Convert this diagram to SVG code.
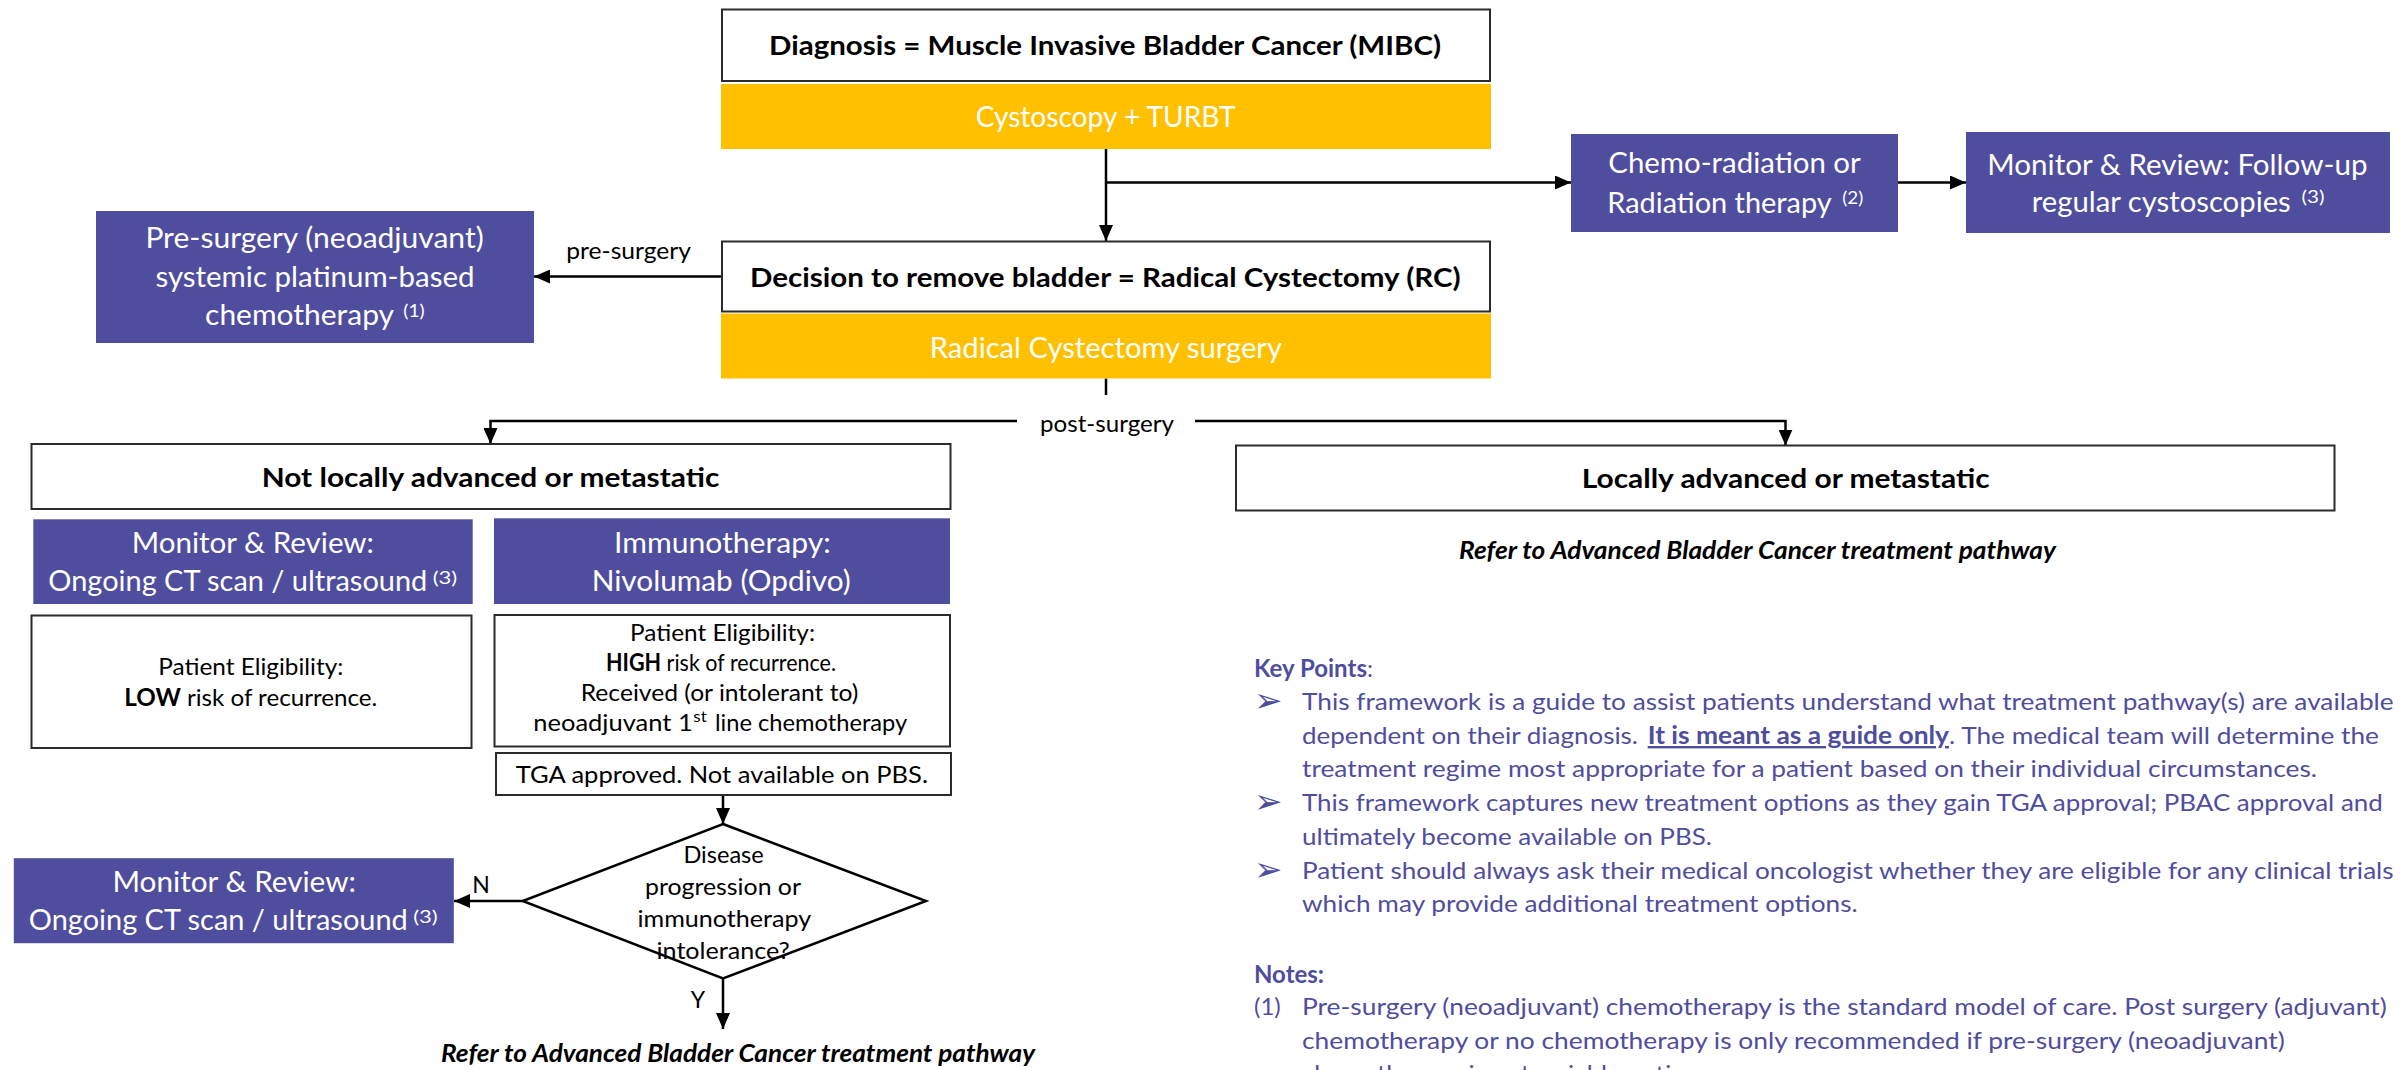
<svg xmlns="http://www.w3.org/2000/svg" width="2402" height="1070" viewBox="0 0 2402 1070">
<style>
.box{fill:#fff;stroke:#2b2b2b;stroke-width:2}
.pbox{fill:#4F4D9E}
.ybox{fill:#FFC000}
text{font-family:Lato,"Open Sans","Liberation Sans",sans-serif;fill:#000}
.w{fill:#fff;font-size:28px}
.b{font-weight:700;font-size:26px}
.s{font-size:24px}
.sup{font-size:17px}
.supw{font-size:17px;fill:#fff}
.kp{fill:#4F4D9E;font-size:24px}
.bul{font-family:"DejaVu Sans",sans-serif;fill:#4F4D9E;font-size:34px}
.ref{font-size:24px;font-weight:700;font-style:italic}
.conn{stroke:#000;stroke-width:2.5;fill:none}
</style>
<defs>
<marker id="ah" viewBox="0 0 16 14" markerWidth="16" markerHeight="14" refX="16" refY="7" orient="auto" markerUnits="userSpaceOnUse">
<path d="M0,0 L16,7 L0,14 z" fill="#000"/>
</marker>
</defs>

<g id="connectors">
<path class="conn" d="M1106,149 V241" marker-end="url(#ah)"/>
<path class="conn" d="M1106,182.5 H1571" marker-end="url(#ah)"/>
<path class="conn" d="M1898,182.5 H1966" marker-end="url(#ah)"/>
<path class="conn" d="M722,276.5 H534" marker-end="url(#ah)"/>
<path class="conn" d="M1106,378.5 V395"/>
<path class="conn" d="M1017,421 H490.5 V444" marker-end="url(#ah)"/>
<path class="conn" d="M1195,421 H1785.5 V445.5" marker-end="url(#ah)"/>
<path class="conn" d="M723,795 V824" marker-end="url(#ah)"/>
<path class="conn" d="M522.7,901 H454" marker-end="url(#ah)"/>
<path class="conn" d="M723,978.5 V1029" marker-end="url(#ah)"/>
<text class="s" x="566.3" y="259.3" textLength="124.7" lengthAdjust="spacingAndGlyphs">pre-surgery</text>
<text class="s" x="1040" y="431.7" textLength="134" lengthAdjust="spacingAndGlyphs">post-surgery</text>
<text x="472.3" y="892.7" style="font-size:23px">N</text>
<text x="690.7" y="1008.3" style="font-size:23px">Y</text>
</g>

<g id="n-diagnosis">
<rect class="box" x="722" y="9.5" width="768" height="71.5"/>
<text class="b" x="769" y="55" textLength="672" lengthAdjust="spacingAndGlyphs">Diagnosis = Muscle Invasive Bladder Cancer (MIBC)</text>
</g>
<g id="n-cystoscopy">
<rect class="ybox" x="721" y="84" width="770" height="65"/>
<text class="w" x="975.7" y="126.7" textLength="260" lengthAdjust="spacingAndGlyphs">Cystoscopy + TURBT</text>
</g>
<g id="n-decision">
<rect class="box" x="722" y="241.5" width="768" height="70"/>
<text class="b" x="750" y="287.3" textLength="710.6" lengthAdjust="spacingAndGlyphs">Decision to remove bladder = Radical Cystectomy (RC)</text>
</g>
<g id="n-rc-surgery">
<rect class="ybox" x="721" y="313.5" width="770" height="65"/>
<text class="w" x="929.8" y="358.3" textLength="352.2" lengthAdjust="spacingAndGlyphs">Radical Cystectomy surgery</text>
</g>
<g id="n-chemorad">
<rect class="pbox" x="1571" y="134" width="327" height="98"/>
<text class="w" x="1608.3" y="173.3" textLength="252.4" lengthAdjust="spacingAndGlyphs">Chemo-radiation or</text>
<text class="w" x="1607.3" y="212.7" textLength="224.4" lengthAdjust="spacingAndGlyphs">Radiation therapy</text>
<text class="supw" x="1842.3" y="204" textLength="21" lengthAdjust="spacingAndGlyphs">(2)</text>
</g>
<g id="n-followup">
<rect class="pbox" x="1966" y="132" width="424" height="101"/>
<text class="w" x="1987.3" y="175" textLength="380.2" lengthAdjust="spacingAndGlyphs">Monitor &amp; Review: Follow-up</text>
<text class="w" x="2031.7" y="211.7" textLength="259.1" lengthAdjust="spacingAndGlyphs">regular cystoscopies</text>
<text class="supw" x="2301.6" y="203" textLength="23" lengthAdjust="spacingAndGlyphs">(3)</text>
</g>
<g id="n-presurgery">
<rect class="pbox" x="96" y="211" width="438" height="132"/>
<text class="w" x="145.4" y="248.3" textLength="338.3" lengthAdjust="spacingAndGlyphs">Pre-surgery (neoadjuvant)</text>
<text class="w" x="155.4" y="287.3" textLength="319.1" lengthAdjust="spacingAndGlyphs">systemic platinum-based</text>
<text class="w" x="205.1" y="325" textLength="188.9" lengthAdjust="spacingAndGlyphs">chemotherapy</text>
<text class="supw" x="403.3" y="317" textLength="21.4" lengthAdjust="spacingAndGlyphs">(1)</text>
</g>
<g id="n-notlocal">
<rect class="box" x="31.5" y="444" width="919" height="65"/>
<text class="b" x="261.7" y="487.2" textLength="457.7" lengthAdjust="spacingAndGlyphs">Not locally advanced or metastatic</text>
</g>
<g id="n-local">
<rect class="box" x="1236" y="445.5" width="1098.5" height="65"/>
<text class="b" x="1581.7" y="488.4" textLength="407.9" lengthAdjust="spacingAndGlyphs">Locally advanced or metastatic</text>
</g>
<g id="n-refer-right">
<text class="ref" x="1459" y="559" textLength="597" lengthAdjust="spacingAndGlyphs">Refer to Advanced Bladder Cancer treatment pathway</text>
</g>
<g id="n-monitor1">
<rect class="pbox" x="33.3" y="519.3" width="439.4" height="84.7"/>
<text class="w" x="131.7" y="553.3" textLength="242.3" lengthAdjust="spacingAndGlyphs">Monitor &amp; Review:</text>
<text class="w" x="48.3" y="590.7" textLength="379" lengthAdjust="spacingAndGlyphs">Ongoing CT scan / ultrasound</text>
<text class="supw" x="432.7" y="584" textLength="24.6" lengthAdjust="spacingAndGlyphs">(3)</text>
</g>
<g id="n-immuno">
<rect class="pbox" x="494" y="518.3" width="456" height="85.7"/>
<text class="w" x="614" y="553.3" textLength="216.7" lengthAdjust="spacingAndGlyphs">Immunotherapy:</text>
<text class="w" x="591.7" y="590.7" textLength="259" lengthAdjust="spacingAndGlyphs">Nivolumab (Opdivo)</text>
</g>
<g id="n-low">
<rect class="box" x="31.5" y="615.5" width="440" height="132.5"/>
<text class="s" x="158.3" y="675" textLength="185" lengthAdjust="spacingAndGlyphs">Patient Eligibility:</text>
<text class="s" x="124.3" y="706" textLength="253" lengthAdjust="spacingAndGlyphs"><tspan font-weight="700">LOW</tspan> risk of recurrence.</text>
</g>
<g id="n-high">
<rect class="box" x="494.5" y="615" width="455.5" height="131.5"/>
<text class="s" x="630" y="641" textLength="185" lengthAdjust="spacingAndGlyphs">Patient Eligibility:</text>
<text class="s" x="606" y="671" textLength="230" lengthAdjust="spacingAndGlyphs"><tspan font-weight="700">HIGH</tspan> risk of recurrence.</text>
<text class="s" x="580.7" y="701" textLength="277.6" lengthAdjust="spacingAndGlyphs">Received (or intolerant to)</text>
<text class="s" x="533.3" y="731" textLength="159.4" lengthAdjust="spacingAndGlyphs">neoadjuvant 1</text>
<text class="sup" x="693.3" y="722" style="font-size:15px" textLength="13.4" lengthAdjust="spacingAndGlyphs">st</text>
<text class="s" x="715" y="731" textLength="192.3" lengthAdjust="spacingAndGlyphs">line chemotherapy</text>
</g>
<g id="n-tga">
<rect class="box" x="496" y="753" width="455" height="42"/>
<text class="s" x="515.7" y="783" textLength="412.3" lengthAdjust="spacingAndGlyphs">TGA approved. Not available on PBS.</text>
</g>
<g id="n-progression">
<polygon points="723,824 926,901 723,978.5 522.7,901" fill="#fff" stroke="#000" stroke-width="2.5"/>
<text class="s" x="683.4" y="863" textLength="80.4" lengthAdjust="spacingAndGlyphs">Disease</text>
<text class="s" x="645" y="895" textLength="156" lengthAdjust="spacingAndGlyphs">progression or</text>
<text class="s" x="637.5" y="927" textLength="173.7" lengthAdjust="spacingAndGlyphs">immunotherapy</text>
<text class="s" x="656.6" y="959" textLength="133.2" lengthAdjust="spacingAndGlyphs">intolerance?</text>
</g>
<g id="n-monitor2">
<rect class="pbox" x="13.8" y="858.2" width="440" height="85"/>
<text class="w" x="112.5" y="892.2" textLength="243.4" lengthAdjust="spacingAndGlyphs">Monitor &amp; Review:</text>
<text class="w" x="28.8" y="929.6" textLength="379" lengthAdjust="spacingAndGlyphs">Ongoing CT scan / ultrasound</text>
<text class="supw" x="413.2" y="922.9" textLength="24.6" lengthAdjust="spacingAndGlyphs">(3)</text>
</g>
<g id="n-refer-left">
<text class="ref" x="441" y="1062" textLength="594" lengthAdjust="spacingAndGlyphs">Refer to Advanced Bladder Cancer treatment pathway</text>
</g>

<g id="keypoints">
<text class="kp" x="1254" y="677"><tspan font-weight="700">Key Points</tspan>:</text>
<text class="bul" x="1254" y="712">➢</text>
<text class="kp" x="1302" y="710" textLength="1091.6" lengthAdjust="spacingAndGlyphs">This framework is a guide to assist patients understand what treatment pathway(s) are available</text>
<text class="kp" x="1302" y="744" textLength="336" lengthAdjust="spacingAndGlyphs">dependent on their diagnosis.</text>
<text class="kp" x="1647.7" y="744" font-weight="700" text-decoration="underline" textLength="301.3" lengthAdjust="spacingAndGlyphs">It is meant as a guide only</text>
<text class="kp" x="1949" y="744" textLength="430" lengthAdjust="spacingAndGlyphs">. The medical team will determine the</text>
<text class="kp" x="1302" y="777" textLength="1015" lengthAdjust="spacingAndGlyphs">treatment regime most appropriate for a patient based on their individual circumstances.</text>
<text class="bul" x="1254" y="813">➢</text>
<text class="kp" x="1302" y="811" textLength="1080.8" lengthAdjust="spacingAndGlyphs">This framework captures new treatment options as they gain TGA approval; PBAC approval and</text>
<text class="kp" x="1302" y="845" textLength="410" lengthAdjust="spacingAndGlyphs">ultimately become available on PBS.</text>
<text class="bul" x="1254" y="881">➢</text>
<text class="kp" x="1302" y="879" textLength="1091.6" lengthAdjust="spacingAndGlyphs">Patient should always ask their medical oncologist whether they are eligible for any clinical trials</text>
<text class="kp" x="1302" y="912" textLength="555.7" lengthAdjust="spacingAndGlyphs">which may provide additional treatment options.</text>
</g>
<g id="notes">
<text class="kp" x="1254" y="983" font-weight="700">Notes:</text>
<text class="kp" x="1254" y="1015">(1)</text>
<text class="kp" x="1302" y="1015" textLength="1084.7" lengthAdjust="spacingAndGlyphs">Pre-surgery (neoadjuvant) chemotherapy is the standard model of care. Post surgery (adjuvant)</text>
<text class="kp" x="1302" y="1049" textLength="982.7" lengthAdjust="spacingAndGlyphs">chemotherapy or no chemotherapy is only recommended if pre-surgery (neoadjuvant)</text>
<text class="kp" x="1302" y="1082" textLength="404" lengthAdjust="spacingAndGlyphs">chemotherapy is not a viable option.</text>
</g>
</svg>
